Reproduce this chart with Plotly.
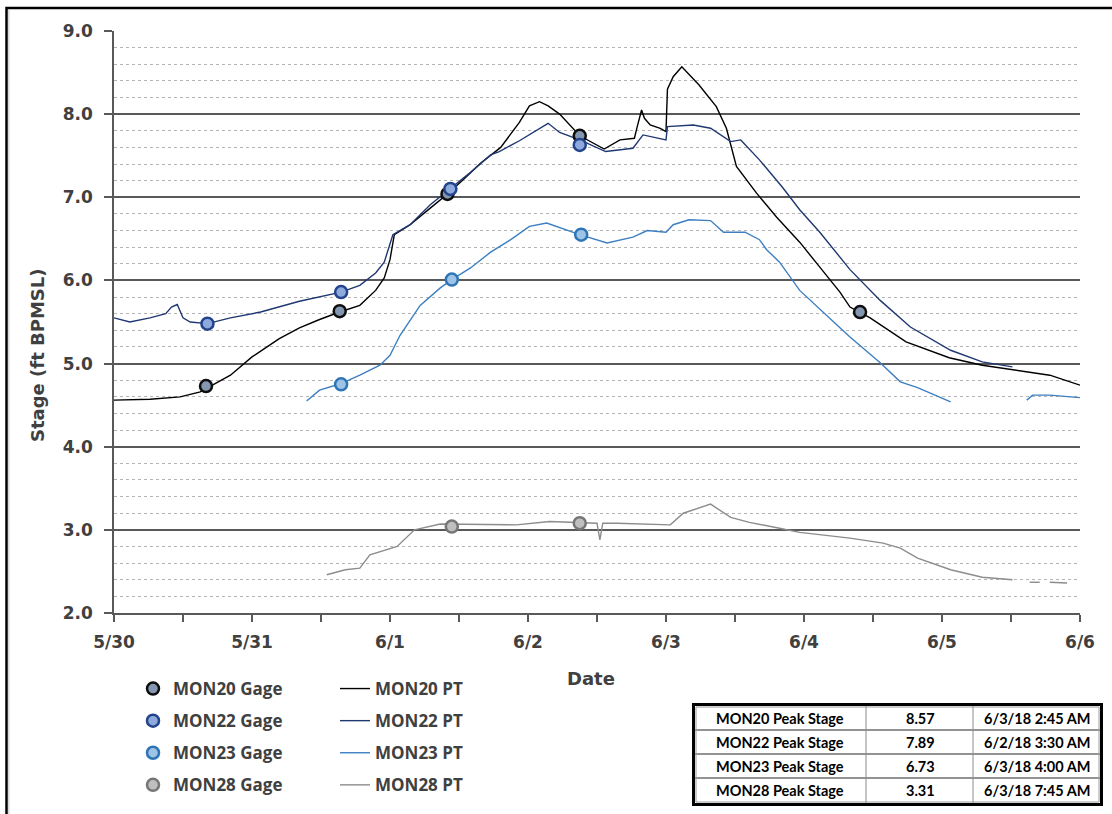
import pandas as pd
import plotly.graph_objects as go

# ---------------------------------------------------------------- data
sites = ["MON20", "MON22", "MON23", "MON28"]

# Continuous pressure-transducer (PT) records, ft BPMSL; None marks a data gap
mon20_pt_time = [
    "2018-05-30 00:00", "2018-05-30 06:15", "2018-05-30 11:30", "2018-05-30 15:00",
    "2018-05-30 20:15", "2018-05-31 00:00", "2018-05-31 04:45", "2018-05-31 08:15",
    "2018-05-31 11:45", "2018-05-31 15:15", "2018-05-31 18:45", "2018-05-31 21:30",
    "2018-05-31 23:00", "2018-06-01 00:00", "2018-06-01 00:45", "2018-06-01 03:30",
    "2018-06-01 07:00", "2018-06-01 10:00", "2018-06-01 13:00", "2018-06-01 15:45",
    "2018-06-01 19:15", "2018-06-01 22:30", "2018-06-02 00:15", "2018-06-02 02:00",
    "2018-06-02 03:30", "2018-06-02 05:30", "2018-06-02 09:00", "2018-06-02 12:30",
    "2018-06-02 13:15", "2018-06-02 16:00", "2018-06-02 18:30", "2018-06-02 19:00",
    "2018-06-02 19:45", "2018-06-02 20:15", "2018-06-02 21:15", "2018-06-02 23:00",
    "2018-06-03 00:00", "2018-06-03 00:15", "2018-06-03 01:15", "2018-06-03 05:45",
    "2018-06-03 08:45", "2018-06-03 10:30", "2018-06-03 12:15", "2018-06-03 15:45",
    "2018-06-03 19:15", "2018-06-03 23:15", "2018-06-04 02:45", "2018-06-04 06:15",
    "2018-06-04 08:00", "2018-06-04 11:30", "2018-06-04 17:45", "2018-06-05 01:15",
    "2018-06-05 07:00", "2018-06-05 13:00", "2018-06-05 18:45", "2018-06-06 00:00",
]
mon20_pt_stage = [
    4.56, 4.57, 4.60, 4.66,
    4.86, 5.08, 5.30, 5.43,
    5.53, 5.62, 5.70, 5.88,
    6.03, 6.25, 6.55, 6.67,
    6.87, 7.04, 7.23, 7.41,
    7.60, 7.90, 8.10, 8.15,
    8.10, 8.00, 7.74, 7.61,
    7.58, 7.69, 7.71, 7.85,
    8.05, 7.95, 7.87, 7.83,
    7.79, 8.30, 8.45, 8.35,
    8.09, 7.83, 7.37, 7.05,
    6.76, 6.46, 6.16, 5.86,
    5.68, 5.55, 5.26, 5.07,
    4.98, 4.92, 4.86, 4.74,
]

mon22_pt_time = [
    "2018-05-30 00:00", "2018-05-30 02:45", "2018-05-30 06:15", "2018-05-30 09:00",
    "2018-05-30 10:00", "2018-05-30 11:00", "2018-05-30 12:00", "2018-05-30 13:15",
    "2018-05-30 16:15", "2018-05-30 20:15", "2018-05-31 01:30", "2018-05-31 08:15",
    "2018-05-31 15:30", "2018-05-31 18:45", "2018-05-31 21:30", "2018-05-31 23:00",
    "2018-06-01 00:30", "2018-06-01 03:30", "2018-06-01 07:00", "2018-06-01 10:30",
    "2018-06-01 14:00", "2018-06-01 17:30", "2018-06-01 19:00", "2018-06-01 22:30",
    "2018-06-02 01:15", "2018-06-02 05:30", "2018-06-02 09:00", "2018-06-02 13:30",
    "2018-06-02 18:15", "2018-06-02 20:00", "2018-06-03 00:00", "2018-06-03 00:15",
    "2018-06-03 04:45", "2018-06-03 07:45", "2018-06-03 11:15", "2018-06-03 13:00",
    "2018-06-03 16:15", "2018-06-03 20:15", "2018-06-03 23:15", "2018-06-04 02:45",
    "2018-06-04 08:00", "2018-06-04 13:15", "2018-06-04 18:30", "2018-06-05 01:30",
    "2018-06-05 07:00", "2018-06-05 12:15",
]
mon22_pt_stage = [
    5.55, 5.50, 5.55, 5.60,
    5.68, 5.71, 5.55, 5.50,
    5.48, 5.55, 5.62, 5.75,
    5.86, 5.94, 6.09, 6.22,
    6.55, 6.67, 6.91, 7.10,
    7.30, 7.51, 7.55, 7.68,
    7.80, 7.78, 7.69, 7.55,
    7.59, 7.75, 7.69, 7.85,
    7.87, 7.83, 7.67, 7.69,
    7.45, 7.12, 6.85, 6.58,
    6.13, 5.76, 5.44, 5.16,
    5.02, 4.96,
]

mon23_pt_time = [
    "2018-05-31 09:30", "2018-05-31 11:45", "2018-05-31 15:30", "2018-05-31 18:45",
    "2018-05-31 22:15", "2018-06-01 00:00", "2018-06-01 01:45", "2018-06-01 05:15",
    "2018-06-01 08:45", "2018-06-01 10:45", "2018-06-01 14:00", "2018-06-01 17:30",
    "2018-06-01 21:00", "2018-06-02 00:15", "2018-06-02 03:15", "2018-06-02 09:00",
    "2018-06-02 13:45", "2018-06-02 18:15", "2018-06-02 20:45", "2018-06-03 00:00",
    "2018-06-03 01:15", "2018-06-03 07:45", "2018-06-03 10:00", "2018-06-03 13:45",
    "2018-06-03 16:15", "2018-06-03 17:30", "2018-06-03 19:45", "2018-06-03 23:15",
    "2018-06-04 02:45", "2018-06-04 06:15", "2018-06-04 08:00", "2018-06-04 13:15",
    "2018-06-04 16:45", "2018-06-04 19:45", "2018-06-05 01:30", "2018-06-05 08:00",
    "2018-06-05 14:45", "2018-06-05 15:45", "2018-06-05 18:45", "2018-06-06 00:00",
]
mon23_pt_stage = [
    4.55, 4.68, 4.76, 4.86,
    4.98, 5.10, 5.34, 5.70,
    5.91, 6.01, 6.15, 6.34,
    6.49, 6.65, 6.69, 6.55,
    6.45, 6.52, 6.60, 6.58,
    6.67, 6.72, 6.58, 6.58,
    6.49, 6.37, 6.22, 5.88,
    5.65, 5.43, 5.32, 5.01,
    4.78, 4.71, 4.54, None,
    4.56, 4.62, 4.62, 4.59,
]

mon28_pt_time = [
    "2018-05-31 13:00", "2018-05-31 16:15", "2018-05-31 18:45", "2018-05-31 20:30",
    "2018-06-01 01:15", "2018-06-01 04:15", "2018-06-01 08:45", "2018-06-01 16:15",
    "2018-06-01 22:00", "2018-06-02 03:45", "2018-06-02 09:00", "2018-06-02 12:00",
    "2018-06-02 12:30", "2018-06-02 13:00", "2018-06-02 15:30", "2018-06-03 00:45",
    "2018-06-03 03:00", "2018-06-03 06:00", "2018-06-03 11:15", "2018-06-03 14:30",
    "2018-06-03 19:45", "2018-06-03 23:15", "2018-06-04 08:00", "2018-06-04 13:45",
    "2018-06-04 16:45", "2018-06-04 19:45", "2018-06-05 01:30", "2018-06-05 07:00",
    "2018-06-05 12:15", "2018-06-05 14:00", "2018-06-05 15:15", "2018-06-05 17:00",
    "2018-06-05 18:00", "2018-06-05 18:45", "2018-06-05 21:45",
]
mon28_pt_stage = [
    2.46, 2.52, 2.54, 2.70,
    2.80, 3.00, 3.07, 3.06,
    3.06, 3.10, 3.09, 3.08,
    2.88, 3.08, 3.08, 3.06,
    3.20, 3.27, 3.15, 3.09,
    3.02, 2.97, 2.90, 2.84,
    2.78, 2.66, 2.52, 2.43,
    2.40, None, 2.37, 2.37,
    None, 2.37, 2.36,
]

# Manual staff-gage readings
mon20_gage_time = ["2018-05-30 16:00", "2018-05-31 15:15", "2018-06-01 10:00",
                   "2018-06-02 09:00", "2018-06-04 09:45"]
mon20_gage_stage = [4.73, 5.63, 7.04, 7.74, 5.62]
mon22_gage_time = ["2018-05-30 16:15", "2018-05-31 15:30", "2018-06-01 10:30",
                   "2018-06-02 09:00"]
mon22_gage_stage = [5.48, 5.86, 7.10, 7.63]
mon23_gage_time = ["2018-05-31 15:30", "2018-06-01 10:45", "2018-06-02 09:15"]
mon23_gage_stage = [4.75, 6.01, 6.55]
mon28_gage_time = ["2018-06-01 10:45", "2018-06-02 09:00"]
mon28_gage_stage = [3.04, 3.08]

# Peak stage of each PT record (also drawn as part of the PT line)
peak_stage = [8.57, 7.89, 6.73, 3.31]
peak_time = ["2018-06-03 02:45", "2018-06-02 03:30", "2018-06-03 04:00", "2018-06-03 07:45"]

x_tick_dates = ["2018-05-30", "2018-05-31", "2018-06-01", "2018-06-02",
                "2018-06-03", "2018-06-04", "2018-06-05", "2018-06-06"]
x_tick_labels = ["5/30", "5/31", "6/1", "6/2", "6/3", "6/4", "6/5", "6/6"]
y_tick_values = [2, 3, 4, 5, 6, 7, 8, 9]
x_title = "Date"
y_title = "Stage (ft BPMSL)"

# ---------------------------------------------------------------- styles
line_colors = ["#000000", "#1f3872", "#3d7fc1", "#8c8c8c"]
marker_fill = ["#8497b0", "#8eaadc", "#9dc3e6", "#bfbfbf"]
marker_edge = ["#0d0d0d", "#23448c", "#2e75b6", "#767676"]
text_color = "#404040"
axis_font = "DejaVu Sans"
legend_font = "Open Sans"
table_font = "Lato"

W, H = 1112, 814
L, R, T, B = 114, 32, 31, 201
PW, PH = W - L - R, H - T - B


def px(xp):
    return (xp - L) / PW


def py(yp):
    return (H - B - yp) / PH


pt_series = [
    (mon20_pt_time, mon20_pt_stage),
    (mon22_pt_time, mon22_pt_stage),
    (mon23_pt_time, mon23_pt_stage),
    (mon28_pt_time, mon28_pt_stage),
]
gage_series = [
    (mon20_gage_time, mon20_gage_stage),
    (mon22_gage_time, mon22_gage_stage),
    (mon23_gage_time, mon23_gage_stage),
    (mon28_gage_time, mon28_gage_stage),
]

fig = go.Figure()

for i, site in enumerate(sites):
    times, stages = pt_series[i]
    df = pd.DataFrame({"t": pd.to_datetime(times + [peak_time[i]]),
                       "v": stages + [peak_stage[i]]})
    df = df.sort_values("t", kind="stable")
    fig.add_trace(go.Scatter(
        x=df["t"], y=df["v"], mode="lines", name=f"{site} PT",
        line=dict(color=line_colors[i], width=1.4),
        connectgaps=False, legend="legend2", legendgroup=f"pt{i}",
        hoverinfo="skip",
    ))

for i, site in enumerate(sites):
    times, stages = gage_series[i]
    fig.add_trace(go.Scatter(
        x=pd.to_datetime(times), y=stages, mode="markers", name=f"{site} Gage",
        marker=dict(size=12, color=marker_fill[i],
                    line=dict(color=marker_edge[i], width=2.5)),
        legend="legend", legendgroup=f"g{i}",
    ))

tick_font = dict(family=axis_font, size=17, color=text_color, weight="bold")
title_font = dict(family=axis_font, size=18, color=text_color, weight="bold")
axis_grey = "#595959"
legend_style = dict(family=legend_font, size=17, color=text_color, weight="bold")

fig.update_layout(
    width=W, height=H,
    margin=dict(l=L, r=R, t=T, b=B, autoexpand=False),
    paper_bgcolor="white", plot_bgcolor="white",
    xaxis=dict(
        type="date", range=[x_tick_dates[0], x_tick_dates[-1]],
        tickmode="array", tickvals=x_tick_dates, ticktext=x_tick_labels,
        ticks="outside", ticklen=7, tickwidth=1.5, tickcolor=axis_grey,
        minor=dict(dtick=43200000, ticks="outside", ticklen=7, tickwidth=1.5,
                   tickcolor=axis_grey, showgrid=False),
        showline=True, linecolor=axis_grey, linewidth=1.5,
        showgrid=False, zeroline=False,
        tickfont=tick_font, ticklabelstandoff=6,
    ),
    xaxis2=dict(
        type="date", range=[x_tick_dates[0], x_tick_dates[-1]],
        overlaying="x", anchor="y", side="bottom",
        tickmode="array", tickvals=x_tick_dates, ticktext=[""] * len(x_tick_dates),
        ticks="inside", ticklen=6, tickwidth=1.5, tickcolor=axis_grey,
        minor=dict(dtick=43200000, ticks="inside", ticklen=6, tickwidth=1.5,
                   tickcolor=axis_grey, showgrid=False),
        showline=False, showgrid=False, zeroline=False, showticklabels=False,
    ),
    yaxis=dict(
        range=[2, 9], tickmode="array", tickvals=y_tick_values,
        tickformat=".1f",
        ticks="outside", ticklen=8, tickwidth=1.5, tickcolor=axis_grey,
        showline=True, linecolor=axis_grey, linewidth=1.5,
        showgrid=True, gridcolor=axis_grey, gridwidth=1.5, zeroline=False,
        minor=dict(dtick=0.2, showgrid=True, gridcolor="#b4b4b4",
                   griddash="dot", gridwidth=1),
        tickfont=tick_font, ticklabelstandoff=8,
    ),
    legend=dict(
        xref="container", yref="container",
        x=133 / W, y=1 - 671 / H, xanchor="left", yanchor="top",
        bgcolor="rgba(0,0,0,0)", borderwidth=0, tracegroupgap=7,
        font=legend_style,
    ),
    legend2=dict(
        xref="container", yref="container",
        x=335 / W, y=1 - 671 / H, xanchor="left", yanchor="top",
        bgcolor="rgba(0,0,0,0)", borderwidth=0, tracegroupgap=7,
        font=legend_style,
    ),
    showlegend=True,
)

shapes = []
# outer chart frame
shapes.append(dict(type="rect", xref="paper", yref="paper",
                   x0=px(6.5), x1=px(1130), y0=py(8), y1=py(830),
                   line=dict(color="black", width=2.5), layer="above"))
shapes.append(dict(type="line", xref="paper", yref="paper",
                   x0=px(8.8), x1=px(8.8), y0=py(10), y1=py(830),
                   line=dict(color="#d9d9d9", width=1.5), layer="above"))

# peak-stage table
tx0, tx1, ty0, ty1 = 693.5, 1101.5, 704.5, 804.5
row_lines = [730, 754, 778]
col_lines = [866, 973]
for yl in row_lines:
    shapes.append(dict(type="line", xref="paper", yref="paper",
                       x0=px(tx0), x1=px(tx1), y0=py(yl), y1=py(yl),
                       line=dict(color="#262626", width=1)))
for xl in col_lines:
    shapes.append(dict(type="line", xref="paper", yref="paper",
                       x0=px(xl), x1=px(xl), y0=py(ty0), y1=py(ty1),
                       line=dict(color="#8c8c8c", width=1)))
shapes.append(dict(type="rect", xref="paper", yref="paper",
                   x0=px(tx0 + 2.5), x1=px(tx1 - 2.5), y0=py(ty0 + 2.5), y1=py(ty1 - 2.5),
                   line=dict(color="#9a9a9a", width=1)))
shapes.append(dict(type="rect", xref="paper", yref="paper",
                   x0=px(tx0), x1=px(tx1), y0=py(ty0), y1=py(ty1),
                   line=dict(color="black", width=3)))

annotations = [
    dict(xref="paper", yref="paper", x=px(591), y=py(678), text=x_title,
         showarrow=False, xanchor="center", yanchor="middle", font=title_font),
    dict(xref="paper", yref="paper", x=px(37), y=py(355), text=y_title,
         showarrow=False, xanchor="center", yanchor="middle", textangle=-90,
         font=title_font),
]
row_centers = [718, 742, 766, 790]
col_centers = [780, 920, 1037]
for i, site in enumerate(sites):
    t = pd.Timestamp(peak_time[i])
    hour12 = t.hour % 12 or 12
    stamp = f"{t.month}/{t.day}/{t:%y} {hour12}:{t:%M} {t:%p}"
    cells = [f"{site} Peak Stage", f"{peak_stage[i]:.2f}", stamp]
    for c, txt in enumerate(cells):
        annotations.append(dict(
            xref="paper", yref="paper", x=px(col_centers[c]), y=py(row_centers[i]),
            text=txt, showarrow=False, xanchor="center", yanchor="middle",
            font=dict(family=table_font, size=14.5, color="black", weight="bold"),
        ))

fig.update_layout(shapes=shapes, annotations=annotations)

fig.write_html("out.html")
